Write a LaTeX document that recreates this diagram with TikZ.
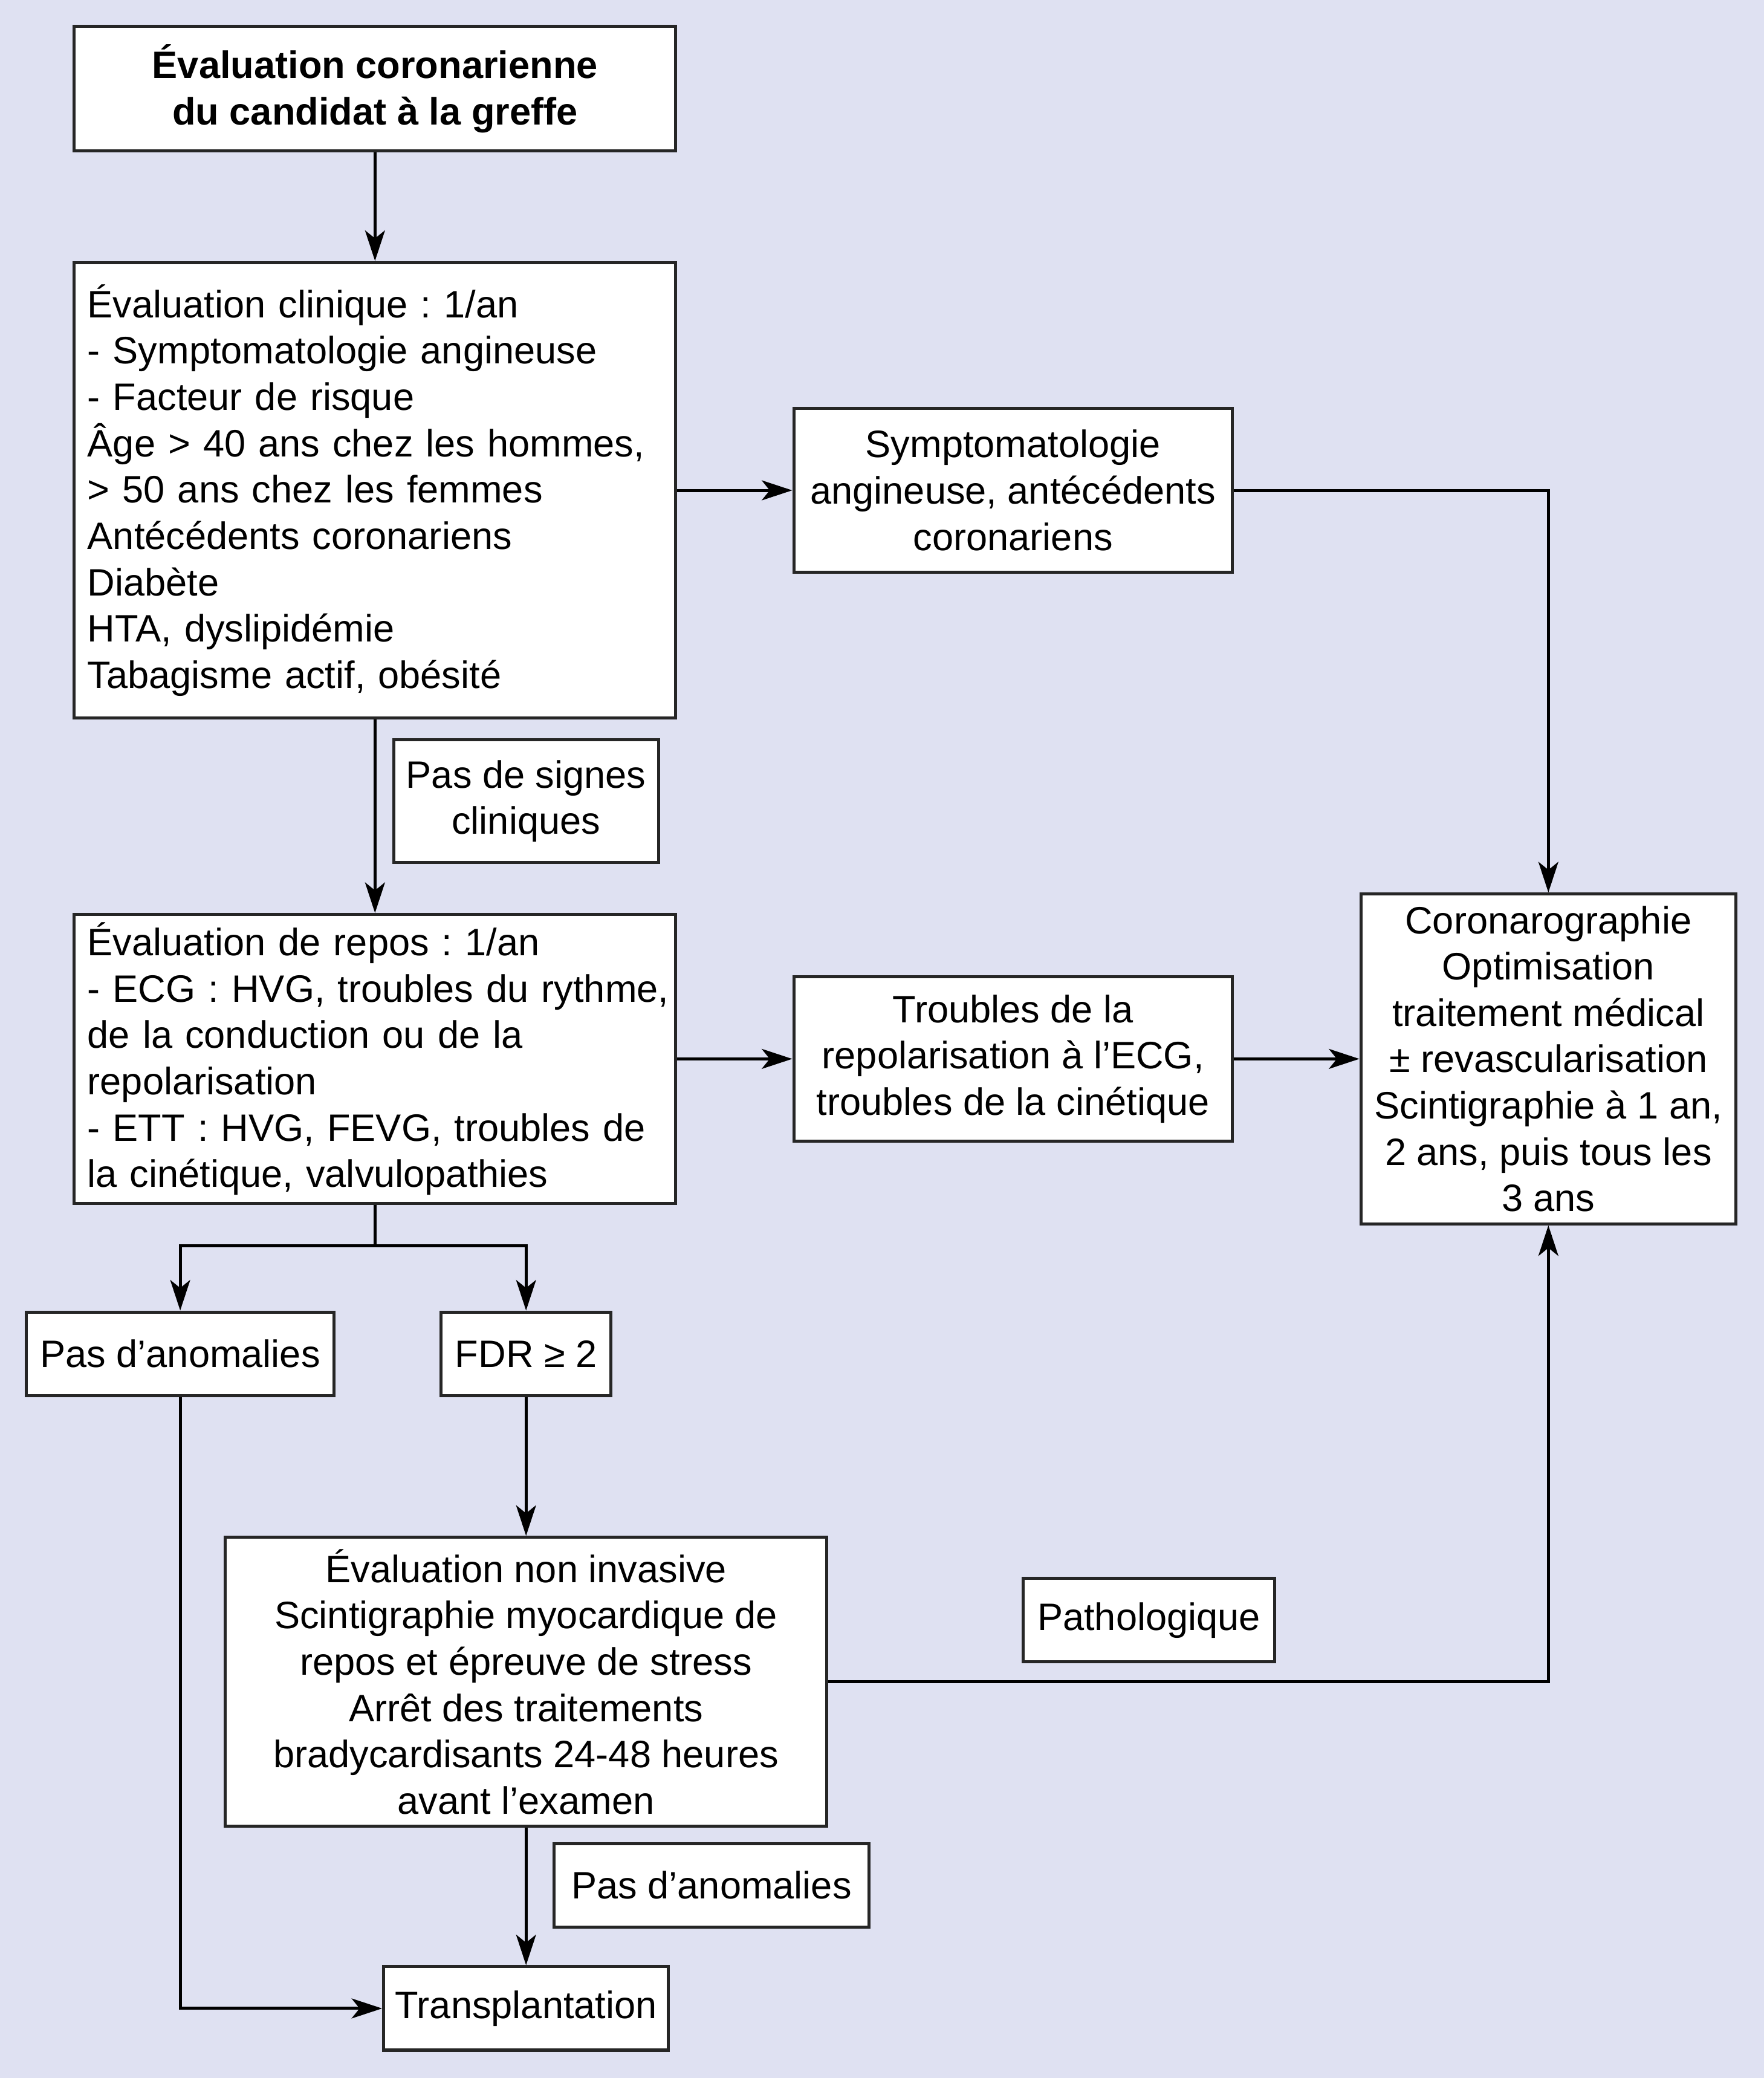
\documentclass[tikz,border=0pt]{standalone}
\usepackage{fontspec}
\setmainfont{Liberation Sans}
\usepackage{tikz}
\usetikzlibrary{arrows.meta}
\definecolor{bglav}{RGB}{223,225,242}
\newcommand{\boxfont}{\fontsize{16.4}{19.9}\selectfont\hyphenpenalty=10000}
\frenchspacing
\hbadness=10000
\hfuzz=20pt
\tikzset{
  box/.style={draw=black!85,fill=white,line width=1.3pt,inner ysep=2pt,align=center,font=\boxfont},
  listbox/.style={box,align=left,text width=8.68cm,inner xsep=0.2cm},
  link/.style={line width=1.3pt},
  arr/.style={line width=1.3pt,-{Stealth[length=0.46cm,width=0.3cm,inset=0.12cm]}}
}

\begin{document}
\begin{tikzpicture}[x=0.02cm,y=-0.02cm]
    \fill[bglav] (0,0) rectangle (1331,1568);
    \useasboundingbox (0,0) rectangle (1331,1568);

    % left column
    \node[box,font=\boxfont\bfseries,minimum width=9.08cm,minimum height=1.88cm] (top) at (283,67)
        {Évaluation coronarienne\\du candidat à la greffe};
    \node[listbox,minimum height=6.88cm] (clin) at (283,370)
        {Évaluation clinique : 1/an\\- Symptomatologie angineuse\\- Facteur de risque\\Âge > 40 ans chez les hommes,\\> 50 ans chez les femmes\\Antécédents coronariens\\Diabète\\HTA, dyslipidémie\\Tabagisme actif, obésité};
    \node[box,minimum width=4cm,minimum height=1.86cm] (nosign) at (397,604.5)
        {Pas de signes\\cliniques};
    \node[listbox,minimum height=4.36cm] (repos) at (283,799)
        {Évaluation de repos : 1/an\\\mbox{- ECG : HVG, troubles du rythme,}\\de la conduction ou de la\\repolarisation\\- ETT : HVG, FEVG, troubles de\\la cinétique, valvulopathies};
    \node[box,minimum width=4.64cm,minimum height=1.26cm] (anom) at (136,1021.5) {Pas d’anomalies};
    \node[box,minimum width=2.56cm,minimum height=1.26cm] (fdr) at (397,1021.5) {FDR ≥ 2};
    \node[box,minimum width=9.08cm,minimum height=4.36cm] (noninv) at (397,1269)
        {Évaluation non invasive\\Scintigraphie myocardique de\\repos et épreuve de stress\\Arrêt des traitements\\bradycardisants 24-48 heures\\avant l’examen};
    \node[box,minimum width=4.76cm,minimum height=1.26cm] (anomb) at (537,1422.5) {Pas d’anomalies};
    \node[box,minimum width=4.3cm,minimum height=1.26cm] (transpl) at (397,1515.5) {Transplantation};

    % middle and right column
    \node[box,minimum width=6.62cm,minimum height=2.48cm] (sympt) at (764.5,370)
        {Symptomatologie\\angineuse, antécédents\\coronariens};
    \node[box,minimum width=6.62cm,minimum height=2.48cm] (repol) at (764.5,799)
        {Troubles de la\\repolarisation à l’ECG,\\troubles de la cinétique};
    \node[box,minimum width=5.66cm,minimum height=4.98cm] (corono) at (1168.5,799)
        {Coronarographie\\Optimisation\\traitement médical\\± revascularisation\\Scintigraphie à 1 an,\\2 ans, puis tous les\\3 ans};
    \node[box,minimum width=3.8cm,minimum height=1.26cm] (patho) at (867,1222.5) {Pathologique};

    \coordinate (split) at (283,940);

    \draw[arr] (top) -- (clin);
    \draw[arr] (clin) -- (sympt);
    \draw[arr] (sympt.east) -| (corono.north);
    \draw[arr] (clin) -- (repos);
    \draw[arr] (repos) -- (repol);
    \draw[arr] (repol) -- (corono);
    \draw[link] (repos) -- (split);
    \draw[arr] (split) -| (anom.north);
    \draw[arr] (split) -| (fdr.north);
    \draw[arr] (fdr) -- (noninv);
    \draw[arr] (anom.south) |- (transpl.west);
    \draw[arr] (noninv.east) -| (corono.south);
    \draw[arr] (noninv) -- (transpl);
\end{tikzpicture}
\end{document}
